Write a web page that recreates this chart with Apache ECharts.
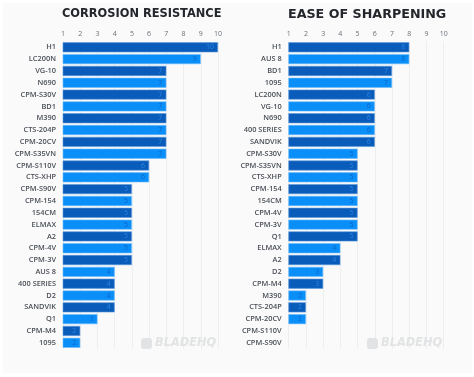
<!DOCTYPE html>
<html><head><meta charset="utf-8">
<style>html,body{margin:0;padding:0;background:#fff}#c{width:474px;height:377px;filter:blur(0.45px)}</style>
<script src="https://cdn.jsdelivr.net/npm/echarts@6/dist/echarts.min.js"></script>
</head><body><div id="c"></div>
<script>
const ticks = [1,2,3,4,5,6,7,8,9,10];
const corrosionNames = ['H1','LC200N','VG-10','N690','CPM-S30V','BD1','M390','CTS-204P','CPM-20CV','CPM-S35VN','CPM-S110V','CTS-XHP','CPM-S90V','CPM-154','154CM','ELMAX','A2','CPM-4V','CPM-3V','AUS 8','400 SERIES','D2','SANDVIK','Q1','CPM-M4','1095'];
const corrosionValues = [10,9,7,7,7,7,7,7,7,7,6,6,5,5,5,5,5,5,5,4,4,4,4,3,2,2];
const sharpenNames = ['H1','AUS 8','BD1','1095','LC200N','VG-10','N690','400 SERIES','SANDVIK','CPM-S30V','CPM-S35VN','CTS-XHP','CPM-154','154CM','CPM-4V','CPM-3V','Q1','ELMAX','A2','D2','CPM-M4','M390','CTS-204P','CPM-20CV','CPM-S110V','CPM-S90V'];
const sharpenValues = [8,8,7,7,6,6,6,6,6,5,5,5,5,5,5,5,5,4,4,3,3,2,2,2,1,1];
const dark='#0a5cba', light='#0a8ef8';
const font='"Open Sans"';
function axes(i,names){return {
  x:{type:'value',gridIndex:i,min:1,max:10,interval:1,position:'top',
     axisLine:{show:false},axisTick:{show:false},
     axisLabel:{color:'#6a7078',fontSize:7,fontFamily:font,margin:4},
     splitLine:{show:true,lineStyle:{color:'#eeeeee',width:1}}},
  y:{type:'category',gridIndex:i,inverse:true,data:names,
     axisLine:{show:false},axisTick:{show:false},
     axisLabel:{color:'#4a4f57',fontSize:7.4,fontWeight:600,fontFamily:font,margin:7,interval:0}}
}}
function series(i,vals){return {type:'bar',xAxisIndex:i,yAxisIndex:i,barWidth:10,
  data:vals.map((v,k)=>({value:v,itemStyle:{color:k%2?light:dark,borderColor:k%2?'#6cbcfb':'#5c98dc',borderWidth:0.6},
    label:{color:k%2?'#0a68c8':'#2a84e0'}})),
  label:{show:true,position:'insideRight',distance:4,fontSize:7,fontFamily:font},silent:true}}
const a0=axes(0,corrosionNames),a1=axes(1,sharpenNames);
const titleStyle={fontWeight:900,color:'#23262b',fontFamily:'"DejaVu Sans"'};
function mark(x){return [
   {type:'rect',x:x,y:338,z:1,shape:{width:11,height:11,r:3},style:{fill:'#e2e3e4'}},
   {type:'text',x:x+14,y:337.5,z:1,style:{text:'BLADEHQ',font:'italic 900 11.4px "DejaVu Sans"',fill:'#e2e3e4'}}
]}
const chart=echarts.init(document.getElementById('c'),null,{renderer:'canvas'});
chart.setOption({animation:false,backgroundColor:'#ffffff',
  title:[
   {text:'CORROSION RESISTANCE',left:62,top:9,padding:0,textStyle:{...titleStyle,fontSize:11.4}},
   {text:'EASE OF SHARPENING',left:288,top:8,padding:0,textStyle:{...titleStyle,fontSize:12.7}}
  ],
  grid:[{left:63,width:155,top:41.4,height:307.3},{left:288.7,width:155,top:41.4,height:307.3}],
  xAxis:[a0.x,a1.x],yAxis:[a0.y,a1.y],
  series:[series(0,corrosionValues),series(1,sharpenValues)],
  graphic:[
   {type:'rect',x:3,y:3,z:-10,silent:true,shape:{width:469,height:370},style:{fill:'#fafafa'}},
   ...mark(141),...mark(367)
  ]});
</script></body></html>
